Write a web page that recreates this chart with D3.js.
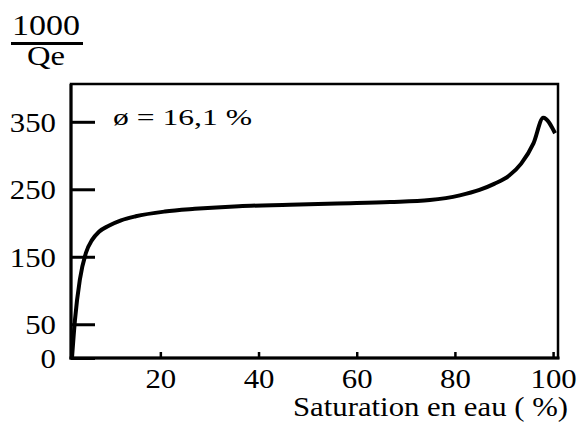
<!DOCTYPE html>
<html>
<head>
<meta charset="utf-8">
<script src="https://cdn.jsdelivr.net/npm/d3@7"></script>
<style>
  html, body { margin: 0; padding: 0; background: #fff; }
  svg { display: block; }
  text { font-family: "Liberation Serif", "DejaVu Serif", serif; fill: #000; }
</style>
</head>
<body>
<svg id="chart" width="585" height="423"></svg>
<script>
// ---- data ----
const saturation = [2.0, 2.6, 3.6, 4.85, 6.1, 7.5, 9.5, 12.0, 15.0, 20.9, 27.0, 36, 46.4, 56, 66.8, 74.9, 81.0, 85.0, 88.0, 91.0, 93.5, 96.0, 98.0, 100.4];
const invQe      = [0,   56,  116, 156,  175, 187, 196,  204,  210,  217,  221,  225, 227, 229, 231,  234,  241,  249,  258,  270,  288,  318,  356,  333];
const yTickValues = [0, 50, 150, 250, 350];
const xTickValues = [20, 40, 60, 80, 100];
const annotation = "ø = 16,1 %";
const xTitle = "Saturation en eau ( %)";
const yTitleTop = "1000";
const yTitleBottom = "Qe";

// ---- layout ----
const pLeft = 71, pRight = 558, pTop = 84, pBottom = 358;

const svg = d3.select("#chart");

const x = d3.scaleLinear().domain([1.8, 101]).range([pLeft, pRight]);
const y = d3.scaleLinear().domain([0, 406]).range([pBottom, pTop]);

// horizontally stretch texts (the reference type is wide)
function stretch(sel, k) {
  sel.each(function () {
    const L = this.getComputedTextLength();
    d3.select(this).attr("textLength", L * k).attr("lengthAdjust", "spacingAndGlyphs");
  });
}

// frame
svg.append("rect")
  .attr("x", pLeft).attr("y", pTop)
  .attr("width", pRight - pLeft).attr("height", pBottom - pTop)
  .attr("fill", "none").attr("stroke", "#000").attr("stroke-width", 2.5);
svg.append("line").attr("x1", pLeft).attr("x2", pLeft).attr("y1", pTop).attr("y2", pBottom + 1.5)
  .attr("stroke", "#000").attr("stroke-width", 3);
svg.append("line").attr("x1", pLeft - 1.5).attr("x2", pRight + 1.5).attr("y1", pBottom).attr("y2", pBottom)
  .attr("stroke", "#000").attr("stroke-width", 3);

// y axis
const yAxis = d3.axisLeft(y)
  .tickValues(yTickValues)
  .tickFormat(d3.format("d"))
  .tickSizeInner(-24).tickSizeOuter(0).tickPadding(15);
const gy = svg.append("g").attr("transform", `translate(${pLeft},0)`).call(yAxis);
gy.select(".domain").remove();
gy.selectAll(".tick line").attr("stroke", "#000").attr("stroke-width", 3);
gy.selectAll(".tick text").style("font-size", "28px").attr("font-family", null).attr("dy", "0.34em");
stretch(gy.selectAll(".tick text"), 1.1);

// x axis
const xAxis = d3.axisBottom(x)
  .tickValues(xTickValues)
  .tickFormat(d3.format("d"))
  .tickSizeInner(-6).tickSizeOuter(0).tickPadding(10);
const gx = svg.append("g").attr("transform", `translate(0,${pBottom})`).call(xAxis);
gx.select(".domain").remove();
gx.selectAll(".tick line").attr("stroke", "#000").attr("stroke-width", 2.5);
gx.selectAll(".tick text").style("font-size", "28px").attr("font-family", null);
stretch(gx.selectAll(".tick text"), 1.1);

// curve
const line = d3.line()
  .x((d, i) => x(saturation[i]))
  .y(d => y(d))
  .curve(d3.curveMonotoneX);
svg.append("path")
  .datum(invQe)
  .attr("d", line)
  .attr("fill", "none")
  .attr("stroke", "#000")
  .attr("stroke-width", 4)
  .attr("stroke-linejoin", "round");

// annotation
const ann = svg.append("text").attr("x", 113).attr("y", 125)
  .style("font-size", "23px").text(annotation);
ann.attr("textLength", 139).attr("lengthAdjust", "spacingAndGlyphs");

// x title
svg.append("text").attr("x", 568).attr("y", 416)
  .attr("text-anchor", "end")
  .style("font-size", "27px")
  .attr("textLength", 275).attr("lengthAdjust", "spacingAndGlyphs")
  .text(xTitle);

// y title as fraction
svg.append("text").attr("x", 46).attr("y", 35)
  .attr("text-anchor", "middle")
  .style("font-size", "30px")
  .attr("textLength", 68).attr("lengthAdjust", "spacingAndGlyphs")
  .text(yTitleTop);
svg.append("line").attr("x1", 11).attr("x2", 83).attr("y1", 43.5).attr("y2", 43.5)
  .attr("stroke", "#000").attr("stroke-width", 3);
svg.append("text").attr("x", 46).attr("y", 65)
  .attr("text-anchor", "middle")
  .style("font-size", "27px")
  .attr("textLength", 38).attr("lengthAdjust", "spacingAndGlyphs")
  .text(yTitleBottom);
</script>
</body>
</html>
